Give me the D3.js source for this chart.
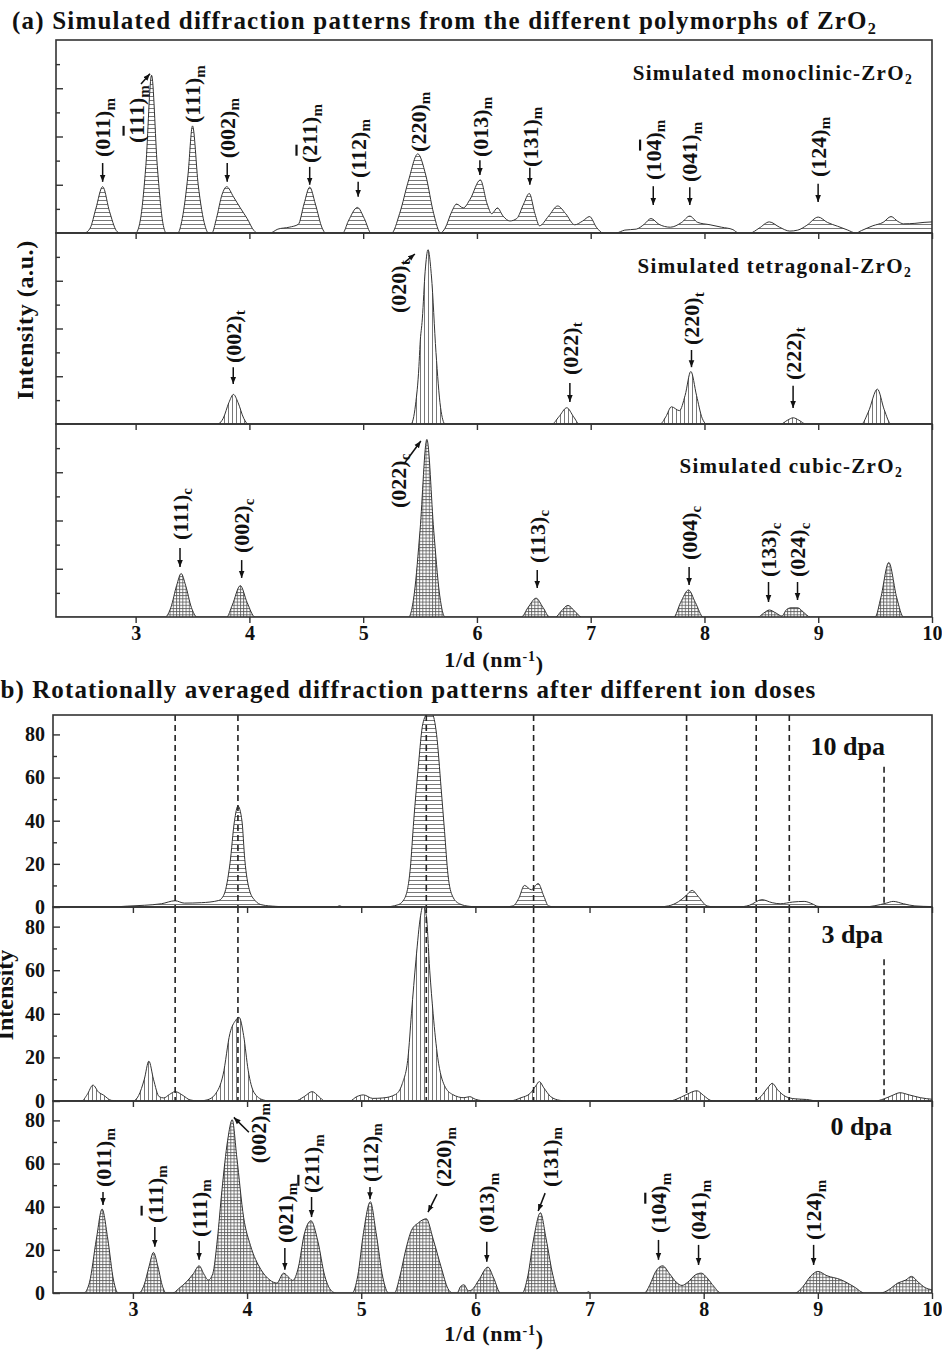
<!DOCTYPE html>
<meta charset="utf-8">
<style>
  body { margin: 0; background: #fff; }
  svg text { font-family: "Liberation Serif", "Times New Roman", serif; font-weight: bold; fill: #111; }
</style>
<svg width="942" height="1351"></svg>
<script src="https://d3js.org/d3.v7.min.js"></script>
<script>
// ---- data (x = 1/d in nm^-1) ----
var xTicks = [3, 4, 5, 6, 7, 8, 9, 10];
var doseTicks = [0, 20, 40, 60, 80];

// (a) simulated patterns, arbitrary units (0..4 = full panel height)
var monoclinic = [[2.3,0],[2.55,0],[2.6,0.1],[2.65,0.5],[2.71,0.96],[2.77,0.45],[2.83,0.05],[2.86,0],
  [3.0,0],[3.04,0.25],[3.09,1.4],[3.14,3.27],[3.19,1.4],[3.24,0.2],[3.27,0],
  [3.37,0],[3.41,0.3],[3.46,1.2],[3.5,2.22],[3.55,1.0],[3.61,0.15],[3.64,0],
  [3.67,0],[3.71,0.3],[3.76,0.8],[3.8,0.96],[3.86,0.75],[3.92,0.52],[3.98,0.3],[4.04,0.05],[4.07,0],
  [4.18,0],[4.25,0.08],[4.35,0.12],[4.43,0.18],[4.48,0.6],[4.53,0.95],[4.58,0.6],[4.64,0.1],[4.67,0],
  [4.82,0],[4.87,0.25],[4.95,0.53],[5.01,0.3],[5.07,0],
  [5.25,0],[5.32,0.4],[5.4,1.1],[5.48,1.64],[5.55,1.2],[5.62,0.4],[5.68,0],
  [5.72,0.1],[5.78,0.45],[5.82,0.6],[5.88,0.52],[5.94,0.7],[6.03,1.1],[6.09,0.6],[6.13,0.4],[6.18,0.52],[6.23,0.35],[6.29,0.25],[6.35,0.3],
  [6.41,0.6],[6.46,0.82],[6.51,0.4],[6.55,0.15],[6.63,0.35],[6.71,0.56],[6.78,0.4],[6.86,0.17],[6.93,0.25],[6.99,0.34],[7.05,0.12],[7.11,0],
  [7.22,0],[7.3,0.06],[7.4,0.08],[7.47,0.18],[7.53,0.3],[7.6,0.18],[7.7,0.12],[7.8,0.22],[7.87,0.35],[7.94,0.22],[8.05,0.17],[8.15,0.12],[8.25,0.07],[8.3,0],
  [8.4,0],[8.48,0.1],[8.57,0.23],[8.66,0.12],[8.75,0.04],[8.82,0.06],[8.9,0.16],[9.0,0.33],[9.08,0.22],[9.17,0.14],[9.26,0.06],[9.33,0],
  [9.38,0.05],[9.48,0.15],[9.57,0.22],[9.64,0.34],[9.7,0.24],[9.75,0.19],[9.85,0.2],[9.93,0.22],[10,0.23]];

var tetragonal = [[2.3,0],[3.72,0],[3.77,0.12],[3.82,0.45],[3.86,0.62],[3.9,0.45],[3.95,0.12],[3.99,0],
  [5.42,0],[5.46,0.4],[5.49,1.2],[5.5,1.67],[5.52,2.2],[5.545,3.2],[5.57,3.65],[5.6,3.1],[5.64,1.5],[5.68,0.35],[5.72,0],
  [6.66,0],[6.72,0.15],[6.79,0.34],[6.85,0.15],[6.9,0],
  [7.61,0],[7.66,0.15],[7.71,0.36],[7.78,0.28],[7.83,0.6],[7.88,1.1],[7.93,0.6],[7.98,0.12],[8.02,0],
  [8.67,0],[8.73,0.08],[8.78,0.13],[8.83,0.08],[8.89,0],
  [9.38,0],[9.44,0.25],[9.52,0.73],[9.58,0.3],[9.64,0],[10,0]];

var cubic = [[2.3,0],[3.26,0],[3.31,0.2],[3.36,0.65],[3.4,0.9],[3.44,0.65],[3.49,0.2],[3.54,0],
  [3.8,0],[3.85,0.25],[3.92,0.65],[3.98,0.3],[4.05,0],
  [5.4,0],[5.45,0.5],[5.5,1.8],[5.56,3.68],[5.62,1.8],[5.67,0.5],[5.72,0],
  [6.39,0],[6.45,0.2],[6.52,0.39],[6.58,0.2],[6.64,0],
  [6.69,0],[6.74,0.12],[6.8,0.24],[6.86,0.12],[6.92,0],
  [7.73,0],[7.79,0.3],[7.86,0.56],[7.92,0.3],[7.99,0],
  [8.47,0],[8.52,0.08],[8.57,0.145],[8.63,0.08],[8.68,0.02],[8.72,0.15],[8.76,0.19],[8.82,0.19],[8.87,0.1],[8.93,0],
  [9.5,0],[9.55,0.4],[9.62,1.13],[9.69,0.4],[9.75,0],[10,0]];

// (b) rotationally averaged intensity
var dpa10 = [[2.3,0],[2.8,0],[2.95,0.4],[3.1,0.8],[3.25,1.5],[3.37,2.9],[3.45,1.8],[3.6,2],[3.75,3],[3.8,6],[3.85,20],[3.89,40],[3.92,46.8],[3.955,40],[3.98,22],[4.02,8],[4.07,3],[4.13,1],[4.25,0.3],[4.4,0],
  [4.78,0],[4.81,0.6],[4.84,0],[5.2,0],[5.32,1],[5.38,4],[5.43,18],[5.46,40],[5.5,65],[5.54,85],[5.58,89.5],[5.62,89.5],[5.66,80],[5.7,55],[5.73,35],[5.76,15],[5.8,5],[5.86,1.5],[5.95,0.3],[6.05,0],
  [6.25,0],[6.33,0.5],[6.38,4],[6.43,10],[6.49,8],[6.55,10.9],[6.6,5],[6.64,0.5],[6.7,0],
  [7.6,0],[7.69,0.5],[7.78,2.5],[7.84,5],[7.9,7.7],[7.95,5],[8.03,0.5],[8.1,0],
  [8.3,0],[8.4,0.8],[8.51,3.4],[8.6,2],[8.67,1.5],[8.78,2.3],[8.88,2.6],[8.95,1.5],[9.0,0.3],[9.1,0],
  [9.4,0],[9.5,0.6],[9.6,1.8],[9.66,2.6],[9.75,1.5],[9.85,0.5],[10,0.2]];

var dpa3 = [[2.3,0],[2.55,0],[2.6,3],[2.65,7.3],[2.7,4],[2.74,2.8],[2.81,0.3],[2.9,0],
  [3.0,0],[3.05,2.5],[3.1,10],[3.14,18.3],[3.18,10],[3.23,2],[3.27,1.4],[3.32,3],[3.37,4.3],[3.44,2.5],[3.5,0.5],[3.58,0],
  [3.65,0.5],[3.72,3],[3.79,12],[3.85,31],[3.9,37],[3.93,38.4],[3.97,30],[4.01,14],[4.06,4],[4.14,0.5],[4.2,0],
  [4.42,0],[4.5,2],[4.57,4.3],[4.63,2],[4.68,0],
  [4.9,0],[4.96,2],[5.02,2.8],[5.1,1.2],[5.19,1.4],[5.3,3],[5.36,8],[5.41,20],[5.44,40],[5.48,65],[5.52,85],[5.54,89.5],[5.57,85],[5.6,60],[5.63,40],[5.67,20],[5.73,7],[5.8,3],[5.9,1.5],[5.95,2],[6.0,0.8],[6.1,0],
  [6.3,0],[6.4,1.5],[6.48,3.5],[6.53,7],[6.56,8.9],[6.6,6],[6.66,2],[6.74,0.3],[6.8,0],
  [7.7,0],[7.76,0.8],[7.85,3],[7.94,4.7],[8.0,2.5],[8.06,0.3],[8.1,0],
  [8.44,0],[8.5,2],[8.56,6],[8.6,8.1],[8.65,5],[8.72,2],[8.8,1],[8.9,0.7],[9.0,0],
  [9.5,0],[9.58,1],[9.65,2.5],[9.72,3.8],[9.8,2.8],[9.9,1.5],[10,0.8]];

var dpa0 = [[2.3,0],[2.57,0],[2.62,5],[2.68,25],[2.73,38.9],[2.78,25],[2.83,6],[2.87,0],
  [3.05,0],[3.1,4],[3.14,12],[3.18,18.8],[3.22,12],[3.26,3],[3.29,0],
  [3.35,0],[3.4,2],[3.47,5.2],[3.53,9],[3.58,12.6],[3.62,9],[3.66,6],[3.7,9],[3.74,25],[3.78,47.7],[3.83,70.8],[3.87,80.3],[3.91,63],[3.97,35],[4.03,22],[4.12,11],[4.2,6],[4.26,4.6],[4.32,9.2],[4.37,7],[4.4,5.8],[4.45,12],[4.5,27],[4.56,33.5],[4.62,24],[4.68,8],[4.75,0.5],[4.78,0],
  [4.92,0],[4.97,8],[5.02,28],[5.08,42.3],[5.13,28],[5.19,7],[5.24,0],
  [5.29,0],[5.34,8],[5.39,20],[5.44,29],[5.5,32.5],[5.57,34.4],[5.63,25],[5.7,12],[5.76,2],[5.8,0],
  [5.84,0],[5.87,3],[5.9,3.8],[5.94,1],[5.97,1.5],[6.03,6],[6.11,12],[6.16,7],[6.22,0],
  [6.41,0],[6.46,8],[6.51,25],[6.57,37.2],[6.62,25],[6.68,8],[6.73,0],
  [6.97,0],[6.99,0.6],[7.01,0],
  [7.48,0],[7.53,4],[7.58,10],[7.64,12.6],[7.7,9],[7.76,5],[7.81,3.5],[7.86,5],[7.93,8.5],[7.98,9.2],[8.03,7],[8.09,3],[8.15,0],
  [8.8,0],[8.87,3],[8.94,8],[9.0,10],[9.08,8],[9.2,6.2],[9.32,2.8],[9.41,0],
  [9.55,0],[9.62,1.5],[9.7,4.6],[9.77,6],[9.82,7.7],[9.88,5],[9.94,2.5],[10,1.5]];

// reference peak positions (dashed) and the intensity where each dash starts
var refLines = [3.37, 3.92, 5.57, 6.51, 7.85, 8.46, 8.75, 9.58];
var refTops  = [89, 89, 89, 89, 89, 89, 89, 65];

// peak labels: "~" puts a bar over the next digit; a = [y0,y1] vertical arrow, or [x0,y0,x1,y1]
var monoAnn = [
  {l:"(011)", s:"m", tx:2.71, ty:1.575, a:[1.45,1.06]},
  {l:"(~111)", s:"m", tx:3.01, ty:1.865, a:[3.047,3.09,3.126,3.30]},
  {l:"(111)", s:"m", tx:3.50, ty:2.28},
  {l:"(002)", s:"m", tx:3.805, ty:1.55, a:[1.45,1.06]},
  {l:"(~211)", s:"m", tx:4.53, ty:1.45, a:[1.37,1.0]},
  {l:"(112)", s:"m", tx:4.956, ty:1.14, a:[1.06,0.75]},
  {l:"(220)", s:"m", tx:5.484, ty:1.68},
  {l:"(013)", s:"m", tx:6.026, ty:1.575, a:[1.51,1.2]},
  {l:"(131)", s:"m", tx:6.465, ty:1.37, a:[1.35,1.0]},
  {l:"(10~4)", s:"m", tx:7.55, ty:1.10, a:[0.97,0.58]},
  {l:"(041)", s:"m", tx:7.871, ty:1.057, a:[0.95,0.58]},
  {l:"(124)", s:"m", tx:8.999, ty:1.16, a:[1.02,0.64]}];
var tetraAnn = [
  {l:"(002)", s:"t", tx:3.858, ty:1.277, a:[1.19,0.84]},
  {l:"(020)", s:"t", tx:5.308, ty:2.325, a:[5.367,3.39,5.455,3.56]},
  {l:"(022)", s:"t", tx:6.817, ty:1.026, a:[0.86,0.46]},
  {l:"(220)", s:"t", tx:7.886, ty:1.654, a:[1.55,1.19]},
  {l:"(222)", s:"t", tx:8.779, ty:0.921, a:[0.8,0.335]}];
var cubicAnn = [
  {l:"(111)", s:"c", tx:3.39, ty:1.596, a:[1.43,1.036]},
  {l:"(002)", s:"c", tx:3.932, ty:1.326, a:[1.18,0.81]},
  {l:"(022)", s:"c", tx:5.308, ty:2.26, a:[5.358,3.17,5.507,3.648]},
  {l:"(113)", s:"c", tx:6.53, ty:1.119, a:[0.974,0.6]},
  {l:"(004)", s:"c", tx:7.865, ty:1.18, a:[1.036,0.663]},
  {l:"(133)", s:"c", tx:8.563, ty:0.829, a:[0.725,0.311]},
  {l:"(024)", s:"c", tx:8.818, ty:0.829, a:[0.725,0.352]}];
var dpa0Ann = [
  {l:"(011)", s:"m", tx:2.738, ty:49.1, a:[46.8,40.8]},
  {l:"(~111)", s:"m", tx:3.192, ty:32.5, a:[30.6,21.4]},
  {l:"(111)", s:"m", tx:3.58, ty:26, a:[24.1,15.4]},
  {l:"(002)", s:"m", tx:4.097, ty:60.2, a:[4.016,74.5,3.884,81.4]},
  {l:"(021)", s:"m", tx:4.331, ty:23.2, a:[20.9,10.8]},
  {l:"(~211)", s:"m", tx:4.565, ty:46.3, a:[44.5,35.2]},
  {l:"(112)", s:"m", tx:5.077, ty:51.4, a:[49.1,43.5]},
  {l:"(220)", s:"m", tx:5.719, ty:49.1, a:[5.664,45.8,5.585,37.5]},
  {l:"(013)", s:"m", tx:6.10, ty:27.8, a:[23.7,14.5]},
  {l:"(131)", s:"m", tx:6.655, ty:49.1, a:[6.611,46.3,6.55,38]},
  {l:"(10~4)", s:"m", tx:7.604, ty:27.8, a:[24.6,15.4]},
  {l:"(041)", s:"m", tx:7.955, ty:24.6, a:[22.3,13]},
  {l:"(124)", s:"m", tx:8.963, ty:24.6, a:[22.3,13]}];

// ---- drawing ----
var svg = d3.select("svg");
var defs = svg.append("defs");

function pattern(id, w, h, lines) {
  var p = defs.append("pattern").attr("id", id).attr("patternUnits", "userSpaceOnUse")
    .attr("width", w).attr("height", h);
  p.append("rect").attr("width", w).attr("height", h).attr("fill", "#fff");
  lines.forEach(function (l) {
    p.append("line").attr("x1", l[0]).attr("y1", l[1]).attr("x2", l[2]).attr("y2", l[3])
      .attr("stroke", "#555").attr("stroke-width", 0.8);
  });
}
pattern("hatchH", 4, 4, [[0, 0.5, 4, 0.5]]);
pattern("hatchV", 4, 4, [[0.5, 0, 0.5, 4]]);
pattern("hatchX", 3.2, 3.2, [[0, 0.5, 3.2, 0.5], [0.5, 0, 0.5, 3.2]]);

defs.append("marker").attr("id", "arr").attr("viewBox", "0 0 10 10")
  .attr("refX", 10).attr("refY", 5).attr("markerWidth", 7).attr("markerHeight", 7)
  .attr("markerUnits", "userSpaceOnUse").attr("orient", "auto")
  .append("path").attr("d", "M0,1 L10,5 L0,9 z").attr("fill", "#111");

var xA = d3.scaleLinear().domain([2.3, 10]).range([56, 932]);
var xB = d3.scaleLinear().domain([2.3, 10]).range([53, 932]);

function drawPanel(p) {
  var x = p.x;
  var y = d3.scaleLinear().domain(p.yDomain).range([p.bottom, p.top]);
  var g = svg.append("g");
  var clip = "clip-" + p.id;
  defs.append("clipPath").attr("id", clip).append("rect")
    .attr("x", x.range()[0]).attr("y", p.top)
    .attr("width", x.range()[1] - x.range()[0]).attr("height", p.bottom - p.top);

  var area = d3.area().x(function (d) { return x(d[0]); }).y0(y(0))
    .y1(function (d) { return y(d[1]); }).curve(d3.curveMonotoneX);
  var line = d3.line().x(function (d) { return x(d[0]); })
    .y(function (d) { return y(d[1]); }).curve(d3.curveMonotoneX);
  var cg = g.append("g").attr("clip-path", "url(#" + clip + ")");
  cg.append("path").datum(p.data).attr("d", area).attr("fill", "url(#" + p.fill + ")");
  cg.append("path").datum(p.data).attr("d", line).attr("fill", "none")
    .attr("stroke", "#333").attr("stroke-width", 1);

  if (p.dashed) {
    cg.selectAll(".ref").data(refLines).enter().append("line")
      .attr("x1", function (d) { return x(d); }).attr("x2", function (d) { return x(d); })
      .attr("y1", function (d, i) { return y(refTops[i]); }).attr("y2", y(0))
      .attr("stroke", "#222").attr("stroke-width", 1.6).attr("stroke-dasharray", "6,4");
  }

  // frame
  g.append("rect").attr("x", x.range()[0]).attr("y", p.top)
    .attr("width", x.range()[1] - x.range()[0]).attr("height", p.bottom - p.top)
    .attr("fill", "none").attr("stroke", "#333").attr("stroke-width", 1.6);

  // x axis (ticks outward)
  var xa = g.append("g").attr("transform", "translate(0," + p.bottom + ")")
    .call(d3.axisBottom(x).tickValues(xTicks).tickSize(6).tickPadding(3)
      .tickFormat(p.xLabels ? d3.format("d") : ""));
  styleAxis(xa, "20px");

  // y axis (ticks inward)
  var ya = g.append("g").attr("transform", "translate(" + x.range()[0] + ",0)")
    .call(d3.axisLeft(y).tickValues(p.yMajor).tickSize(-7).tickPadding(8)
      .tickFormat(p.yLabels ? d3.format("d") : ""));
  styleAxis(ya, "20px");
  var yb = g.append("g").attr("transform", "translate(" + x.range()[0] + ",0)")
    .call(d3.axisLeft(y).tickValues(p.yMinor).tickSize(-4).tickFormat(""));
  styleAxis(yb, "20px");

  // labels
  (p.ann || []).forEach(function (a) { drawAnn(g, x, y, a); });
  return y;
}

function styleAxis(sel, size) {
  sel.select(".domain").remove();
  sel.selectAll("line").attr("stroke", "#333").attr("stroke-width", 1.4);
  sel.selectAll("text").style("font-size", size);
}

function drawAnn(g, x, y, a) {
  var t = g.append("text")
    .attr("transform", "translate(" + x(a.tx) + "," + y(a.ty) + ") rotate(-90)")
    .attr("dy", "0.35em").style("font-size", "22px");
  var parts = a.l.split("~");
  t.append("tspan").text(parts[0]);
  for (var i = 1; i < parts.length; i++) {
    t.append("tspan").style("text-decoration", "overline").text(parts[i].charAt(0));
    t.append("tspan").text(parts[i].slice(1));
  }
  t.append("tspan").attr("dy", "0.3em").style("font-size", "15px").text(a.s);
  if (a.a) {
    var c = a.a.length === 2 ? [a.tx, a.a[0], a.tx, a.a[1]] : a.a;
    g.append("line").attr("x1", x(c[0])).attr("y1", y(c[1]))
      .attr("x2", x(c[2])).attr("y2", y(c[3]))
      .attr("stroke", "#111").attr("stroke-width", 1.5).attr("marker-end", "url(#arr)");
  }
}

function subText(x, y, anchor, size, spacing, main, sub) {
  var t = svg.append("text").attr("x", x).attr("y", y).attr("text-anchor", anchor)
    .style("font-size", size + "px").style("letter-spacing", spacing + "px");
  t.append("tspan").text(main);
  t.append("tspan").attr("dy", "0.3em").style("font-size", (size * 0.65) + "px").text(sub);
  return t;
}

var aMajor = [1, 2, 3], aMinor = [0.5, 1.5, 2.5, 3.5];
var bMajor = doseTicks, bMinor = [10, 30, 50, 70];

drawPanel({id: "mono", x: xA, top: 40, bottom: 233, yDomain: [0, 4], data: monoclinic, fill: "hatchH",
  yMajor: aMajor, yMinor: aMinor, ann: monoAnn});
drawPanel({id: "tetra", x: xA, top: 233, bottom: 424, yDomain: [0, 4], data: tetragonal, fill: "hatchV",
  yMajor: aMajor, yMinor: aMinor, ann: tetraAnn});
drawPanel({id: "cubic", x: xA, top: 424, bottom: 617, yDomain: [0, 4], data: cubic, fill: "hatchX",
  yMajor: aMajor, yMinor: aMinor, ann: cubicAnn, xLabels: true});

drawPanel({id: "d10", x: xB, top: 715, bottom: 907, yDomain: [0, 89], data: dpa10, fill: "hatchH",
  yMajor: bMajor, yMinor: bMinor, yLabels: true, dashed: true});
drawPanel({id: "d3", x: xB, top: 907, bottom: 1101, yDomain: [0, 89], data: dpa3, fill: "hatchV",
  yMajor: bMajor, yMinor: bMinor, yLabels: true, dashed: true});
drawPanel({id: "d0", x: xB, top: 1101, bottom: 1293, yDomain: [0, 89], data: dpa0, fill: "hatchX",
  yMajor: bMajor, yMinor: bMinor, yLabels: true, ann: dpa0Ann, xLabels: true});

// titles and captions
subText(12, 29, "start", 25, 1.2, "(a) Simulated diffraction patterns from the different polymorphs of ZrO", "2");
svg.append("text").attr("x", -9).attr("y", 698).style("font-size", "25px").style("letter-spacing", "1.1px")
  .text("(b) Rotationally averaged diffraction patterns after different ion doses");

subText(913, 80, "end", 21, 1.3, "Simulated monoclinic-ZrO", "2");
subText(912, 273, "end", 21, 1.3, "Simulated tetragonal-ZrO", "2");
subText(903, 473, "end", 21, 1.3, "Simulated cubic-ZrO", "2");

svg.append("text").attr("x", 885).attr("y", 755).attr("text-anchor", "end").style("font-size", "26px").text("10 dpa");
svg.append("text").attr("x", 883).attr("y", 943).attr("text-anchor", "end").style("font-size", "26px").text("3 dpa");
svg.append("text").attr("x", 892).attr("y", 1135).attr("text-anchor", "end").style("font-size", "26px").text("0 dpa");

[667, 1341].forEach(function (yy) {
  var t = svg.append("text").attr("x", 494).attr("y", yy).attr("text-anchor", "middle")
    .style("font-size", "22px").style("letter-spacing", "0.8px");
  t.append("tspan").text("1/d (nm");
  t.append("tspan").attr("dy", "-0.45em").style("font-size", "14px").text("-1");
  t.append("tspan").attr("dy", "0.45em").text(")");
});

svg.append("text").attr("transform", "translate(33,320) rotate(-90)").attr("text-anchor", "middle")
  .style("font-size", "24px").style("letter-spacing", "0.6px").text("Intensity (a.u.)");
svg.append("text").attr("transform", "translate(13,995) rotate(-90)").attr("text-anchor", "middle")
  .style("font-size", "24px").text("Intensity");
</script>
